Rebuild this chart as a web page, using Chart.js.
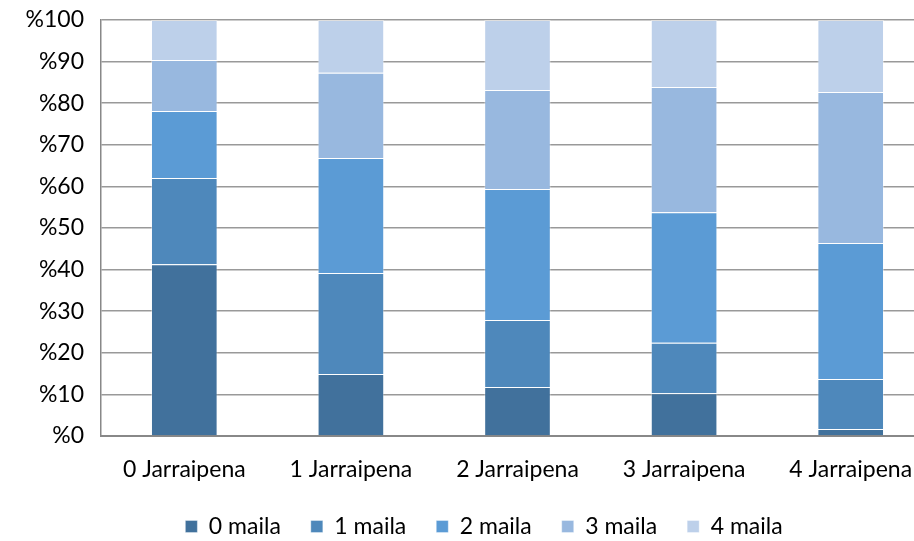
<!DOCTYPE html>
<html>
<head>
<meta charset="utf-8">
<title>Jarraipena</title>
<script src="https://cdn.jsdelivr.net/npm/chart.js@4/dist/chart.umd.min.js"></script>
<style>
    html, body { margin: 0; padding: 0; background: #fff; overflow: hidden; }
    #wrap { width: 934px; height: 548px; position: relative; }
</style>
</head>
<body>
<div id="wrap"><canvas id="stackChart"></canvas></div>
<script>
// Categories and series (percent shares per follow-up)
const categories = ["0 Jarraipena", "1 Jarraipena", "2 Jarraipena", "3 Jarraipena", "4 Jarraipena"];
const seriesNames = ["0 maila", "1 maila", "2 maila", "3 maila", "4 maila"];
const maila0 = [41.3, 14.9, 11.8, 10.3, 1.7];
const maila1 = [20.7, 24.3, 16.1, 12.1, 12.0];
const maila2 = [16.1, 27.6, 31.5, 31.4, 32.7];
const maila3 = [12.3, 20.5, 23.8, 30.1, 36.3];
const maila4 = [9.6, 12.7, 16.8, 16.1, 17.3];
const yTicks = [0, 10, 20, 30, 40, 50, 60, 70, 80, 90, 100];

const colors = ["#41719c", "#4e88bb", "#5b9bd5", "#98b8df", "#bdd0ea"];
const fontFamily = "Lato, 'Open Sans', sans-serif";
const fontSize = 23;

const seriesValues = [maila0, maila1, maila2, maila3, maila4];

// Move the legend a little to the right of the canvas centre
const legendShift = {
    id: "legendShift",
    afterLayout(chart) {
        const lg = chart.legend;
        if (lg) {
            lg.left += 17;
            lg.right += 17;
        }
    },
};

new Chart(document.getElementById("stackChart"), {
    type: "bar",
    data: {
        labels: categories,
        datasets: seriesNames.map((name, i) => ({
            label: name,
            data: seriesValues[i],
            backgroundColor: colors[i],
            borderColor: "rgba(255,255,255,0.35)",
            borderWidth: 1,
            barPercentage: 0.4,
            categoryPercentage: 1,
        })),
    },
    options: {
        responsive: true,
        maintainAspectRatio: false,
        animation: false,
        layout: { padding: { top: 20, right: 0, bottom: 0, left: 0 } },
        plugins: {
            legend: {
                position: "bottom",
                labels: {
                    boxWidth: 12,
                    boxHeight: 12,
                    padding: 30,
                    color: "#000",
                    font: { family: fontFamily, size: fontSize },
                },
            },
            tooltip: { enabled: false },
        },
        scales: {
            x: {
                stacked: true,
                grid: { display: false, drawTicks: false },
                border: { color: "#888", width: 2 },
                ticks: {
                    color: "#000",
                    padding: 20,
                    font: { family: fontFamily, size: fontSize },
                },
                afterFit: (scale) => { scale.height = 49; },
            },
            y: {
                stacked: true,
                min: 0,
                max: 100,
                afterBuildTicks: (scale) => {
                    scale.ticks = yTicks.map((v) => ({ value: v }));
                },
                afterFit: (scale) => {
                    scale.width = 101;
                    scale.paddingTop = 0;
                    scale.paddingBottom = 0;
                },
                grid: { color: "#999", lineWidth: 1.5, drawTicks: false },
                border: { color: "#888", width: 1.5 },
                ticks: {
                    color: "#000",
                    padding: 17,
                    font: { family: fontFamily, size: fontSize },
                    callback: (v) => "%" + v,
                },
            },
        },
    },
    plugins: [legendShift],
});
</script>
</body>
</html>
